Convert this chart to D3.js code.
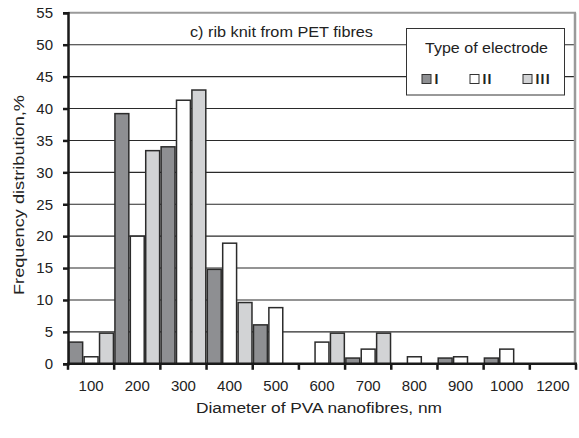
<!DOCTYPE html>
<html><head><meta charset="utf-8">
<script src="https://cdn.jsdelivr.net/npm/d3@7"></script>
<style>
html,body{margin:0;padding:0;background:#fff;}
svg{display:block;font-family:"Liberation Sans",Arial,sans-serif;}
</style></head>
<body><svg id="c" width="579" height="438"></svg>
<script>
const categories = ["100","200","300","400","500","600","700","800","900","1000","1200"];
const seriesNames = ["I","II","III"];
const electrodeI   = [3.4, 39.2, 34.0, 14.8, 6.1, 0,   0.9, 0,   0.9, 0.9, 0];
const electrodeII  = [1.1, 20.0, 41.3, 18.9, 8.8, 3.4, 2.3, 1.1, 1.1, 2.3, 0];
const electrodeIII = [4.8, 33.4, 42.9, 9.6,  0,   4.8, 4.8, 0,   0,   0,   0];
const yTicks = [0,5,10,15,20,25,30,35,40,45,50,55];
const colors = ["#8e8f92","#ffffff","#d2d3d5"];

const seriesValues = [electrodeI, electrodeII, electrodeIII];
const svg = d3.select("#c");
const L = 68, R = 576, T = 12.8, B = 363.8;

const x = d3.scaleBand().domain(categories).range([L, R]).padding(0);
const xs = d3.scaleBand().domain(seriesNames).range([0, x.bandwidth()]).padding(0);
const y = d3.scaleLinear().domain([0,55]).range([B, T]);

// gridlines
svg.append("g").selectAll("line").data(yTicks.filter(d=>d>0 && d<55)).join("line")
  .attr("x1", L).attr("x2", R).attr("y1", d=>y(d)).attr("y2", d=>y(d))
  .attr("stroke", "#2a2a2a").attr("stroke-width", 1.1);

// frame top / right
svg.append("line").attr("x1", L).attr("x2", R).attr("y1", y(55)).attr("y2", y(55))
  .attr("stroke", "#9a9a9a").attr("stroke-width", 2);
svg.append("line").attr("x1", R-1).attr("x2", R-1).attr("y1", y(55)).attr("y2", B)
  .attr("stroke", "#9a9a9a").attr("stroke-width", 2.5);

// bars
const data = [];
categories.forEach((c,i)=>seriesNames.forEach((s,j)=>data.push({c, s, j, v: seriesValues[j][i]})));
svg.append("g").selectAll("rect").data(data.filter(d=>d.v>0)).join("rect")
  .attr("x", d=>x(d.c)+xs(d.s)+0.75)
  .attr("width", xs.bandwidth()-1.5)
  .attr("y", d=>y(d.v))
  .attr("height", d=>B - y(d.v))
  .attr("fill", d=>colors[d.j])
  .attr("stroke", "#2b2b2b").attr("stroke-width", 1.5);

// y axis
const yAxis = d3.axisLeft(y).tickValues(yTicks).tickSize(5).tickPadding(10).tickFormat(d3.format("d"));
const gy = svg.append("g").attr("transform", `translate(${L},0)`).call(yAxis);
gy.select(".domain").attr("stroke","#1a1a1a").attr("stroke-width",2.5);
gy.selectAll(".tick line").attr("stroke","#1a1a1a").attr("stroke-width",2.5);
gy.selectAll("text").attr("font-size",15).attr("fill","#222").attr("font-family","Liberation Sans, Arial, sans-serif");

// x axis: ticks at category boundaries
const bounds = categories.map(c=>x(c)).concat([R]);
const gx = svg.append("g");
gx.append("line").attr("x1",L-1).attr("x2",R+1).attr("y1",B).attr("y2",B)
  .attr("stroke","#1a1a1a").attr("stroke-width",2.5);
gx.selectAll("line.t").data(bounds).join("line").attr("class","t")
  .attr("x1",d=>d).attr("x2",d=>d).attr("y1",B).attr("y2",B+6)
  .attr("stroke","#1a1a1a").attr("stroke-width",2.5);
gx.selectAll("text").data(categories).join("text")
  .attr("x", d=>x(d)+x.bandwidth()/2).attr("y", 391)
  .attr("text-anchor","middle").attr("font-size",15).attr("fill","#222")
  .text(d=>d);

// axis titles
svg.append("text").attr("x", 196).attr("y", 413)
  .attr("font-size",15.5).attr("fill","#222")
  .attr("textLength",246).attr("lengthAdjust","spacingAndGlyphs")
  .text("Diameter of PVA nanofibres, nm");
svg.append("text").attr("transform","translate(24,295) rotate(-90)")
  .attr("font-size",15.5).attr("fill","#222")
  .attr("textLength",200).attr("lengthAdjust","spacingAndGlyphs")
  .text("Frequency distribution,%");

// panel title
svg.append("text").attr("x", 190).attr("y", 37).attr("font-size",14.5).attr("fill","#222")
  .attr("textLength",183).attr("lengthAdjust","spacingAndGlyphs")
  .text("c) rib knit from PET fibres");

// legend
const lg = svg.append("g");
lg.append("rect").attr("x",406.5).attr("y",28.5).attr("width",158).attr("height",66.5)
  .attr("fill","#fff").attr("stroke","#333").attr("stroke-width",1);
lg.append("text").attr("x",425).attr("y",53)
  .attr("font-size",15).attr("fill","#222")
  .attr("textLength",123).attr("lengthAdjust","spacingAndGlyphs")
  .text("Type of electrode");
const lx = [422, 470, 523];
seriesNames.forEach((s,j)=>{
  lg.append("rect").attr("x",lx[j]).attr("y",74.5).attr("width",9).attr("height",9)
    .attr("fill",colors[j]).attr("stroke","#333").attr("stroke-width",1);
  lg.append("text").attr("x",lx[j]+12.5).attr("y",84).attr("font-size",14).attr("font-weight","bold")
    .attr("letter-spacing",1.2).attr("fill","#222").text(s);
});
</script></body></html>
